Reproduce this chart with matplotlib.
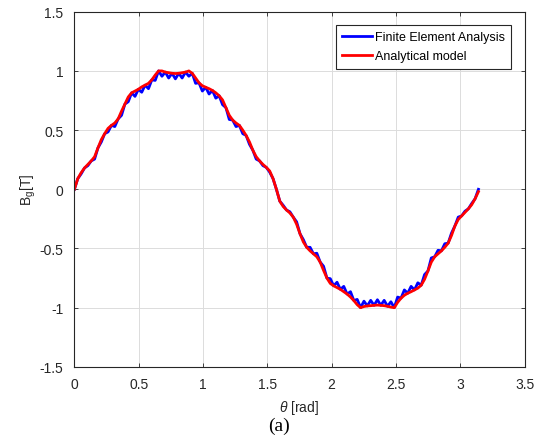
import numpy as np
import matplotlib
matplotlib.use('Agg')
import matplotlib.pyplot as plt

plt.rcParams['font.family'] = ['Liberation Sans', 'DejaVu Sans']
plt.rcParams['mathtext.fontset'] = 'custom'
plt.rcParams['mathtext.rm'] = 'Liberation Sans'
plt.rcParams['mathtext.it'] = 'Liberation Sans:italic'

# sample positions (pi/120 step, 0 .. pi)
theta = np.linspace(0, np.pi, 121)

# analytical model
b_analytical = [
    0.00, 0.09, 0.14, 0.18, 0.21, 0.24, 0.275, 0.35, 0.42, 0.47,
    0.515, 0.54, 0.56, 0.595, 0.66, 0.72, 0.78, 0.815, 0.83, 0.845,
    0.865, 0.88, 0.895, 0.925, 0.965, 1.00, 1.00, 0.99, 0.985, 0.98,
    0.978, 0.98, 0.985, 0.99, 1.00, 0.98, 0.94, 0.90, 0.875, 0.862,
    0.85, 0.835, 0.815, 0.79, 0.755, 0.69, 0.625, 0.585, 0.56, 0.54,
    0.50, 0.455, 0.40, 0.33, 0.275, 0.24, 0.21, 0.185, 0.155, 0.09,
    0.00, -0.10, -0.145, -0.175, -0.20, -0.235, -0.295, -0.375, -0.445, -0.49,
    -0.52, -0.545, -0.57, -0.615, -0.685, -0.75, -0.795, -0.815, -0.83, -0.845,
    -0.865, -0.885, -0.91, -0.94, -0.975, -1.00, -0.99, -0.985, -0.983, -0.98,
    -0.978, -0.98, -0.983, -0.988, -0.995, -1.00, -0.955, -0.92, -0.895, -0.878,
    -0.865, -0.85, -0.835, -0.81, -0.76, -0.69, -0.615, -0.57, -0.545, -0.52,
    -0.49, -0.455, -0.39, -0.31, -0.255, -0.225, -0.195, -0.165, -0.13, -0.08,
    -0.02,
]

# finite element analysis (slot ripple)
b_fea = [
    0.00, 0.09, 0.13, 0.18, 0.20, 0.24, 0.255, 0.35, 0.40, 0.47,
    0.485, 0.54, 0.53, 0.595, 0.625, 0.72, 0.74, 0.815, 0.785, 0.845,
    0.82, 0.88, 0.85, 0.925, 0.92, 1.00, 0.955, 0.99, 0.94, 0.98,
    0.933, 0.98, 0.94, 0.99, 0.955, 0.98, 0.895, 0.90, 0.83, 0.862,
    0.805, 0.835, 0.77, 0.79, 0.715, 0.69, 0.59, 0.585, 0.53, 0.54,
    0.47, 0.455, 0.38, 0.33, 0.255, 0.24, 0.20, 0.185, 0.145, 0.09,
    0.00, -0.10, -0.135, -0.175, -0.19, -0.235, -0.275, -0.375, -0.425, -0.49,
    -0.49, -0.545, -0.54, -0.615, -0.65, -0.75, -0.755, -0.815, -0.785, -0.845,
    -0.82, -0.885, -0.865, -0.94, -0.93, -1.00, -0.945, -0.985, -0.938, -0.98,
    -0.933, -0.98, -0.938, -0.988, -0.95, -1.00, -0.91, -0.92, -0.85, -0.878,
    -0.82, -0.85, -0.79, -0.81, -0.72, -0.69, -0.58, -0.57, -0.515, -0.52,
    -0.46, -0.455, -0.37, -0.31, -0.235, -0.225, -0.185, -0.165, -0.12, -0.08,
    0.00,
]

x_ticks = [0, 0.5, 1, 1.5, 2, 2.5, 3, 3.5]
x_labels = ['0', '0.5', '1', '1.5', '2', '2.5', '3', '3.5']
y_ticks = [-1.5, -1, -0.5, 0, 0.5, 1, 1.5]
y_labels = ['-1.5', '-1', '-0.5', '0', '0.5', '1', '1.5']

fig = plt.figure(figsize=(5.43, 4.39), dpi=100)
ax = fig.add_axes([0.137, 0.162, 0.829, 0.809])

ax.plot(theta, b_fea, color='#0000ff', lw=2.0, label='Finite Element Analysis')
ax.plot(theta, b_analytical, color='#ff0000', lw=2.0, label='Analytical model')

ax.set_xlim(0, 3.5)
ax.set_ylim(-1.5, 1.5)
ax.set_xticks(x_ticks)
ax.set_xticklabels(x_labels)
ax.set_yticks(y_ticks)
ax.set_yticklabels(y_labels)
ax.tick_params(direction='in', length=3, width=0.6, labelsize=10,
               top=True, right=True, colors='#262626')
ax.tick_params(axis='x', pad=7)
ax.tick_params(axis='y', pad=8)
ax.grid(True, color='#dcdcdc', lw=0.7)
for s in ax.spines.values():
    s.set_color('#262626')
    s.set_linewidth(0.8)

ax.set_xlabel(r'$\it{\theta}$ [rad]', fontsize=10, color='#262626', labelpad=5)
ax.set_ylabel(r'B$_\mathrm{g}$[T]', fontsize=10, color='#262626', labelpad=1)

leg = ax.legend(loc='upper right', bbox_to_anchor=(0.97, 0.962), fontsize=9,
                frameon=True, fancybox=False, framealpha=1, borderpad=0.5,
                handlelength=2.4, handletextpad=0.2, labelspacing=0.55,
                borderaxespad=0)
leg.get_frame().set_edgecolor('#262626')
leg.get_frame().set_linewidth(0.8)

fig.text(0.513, 0.028, '(a)', family='Liberation Serif', fontsize=14,
         ha='center', va='center')

fig.savefig('out.png', dpi=100)
